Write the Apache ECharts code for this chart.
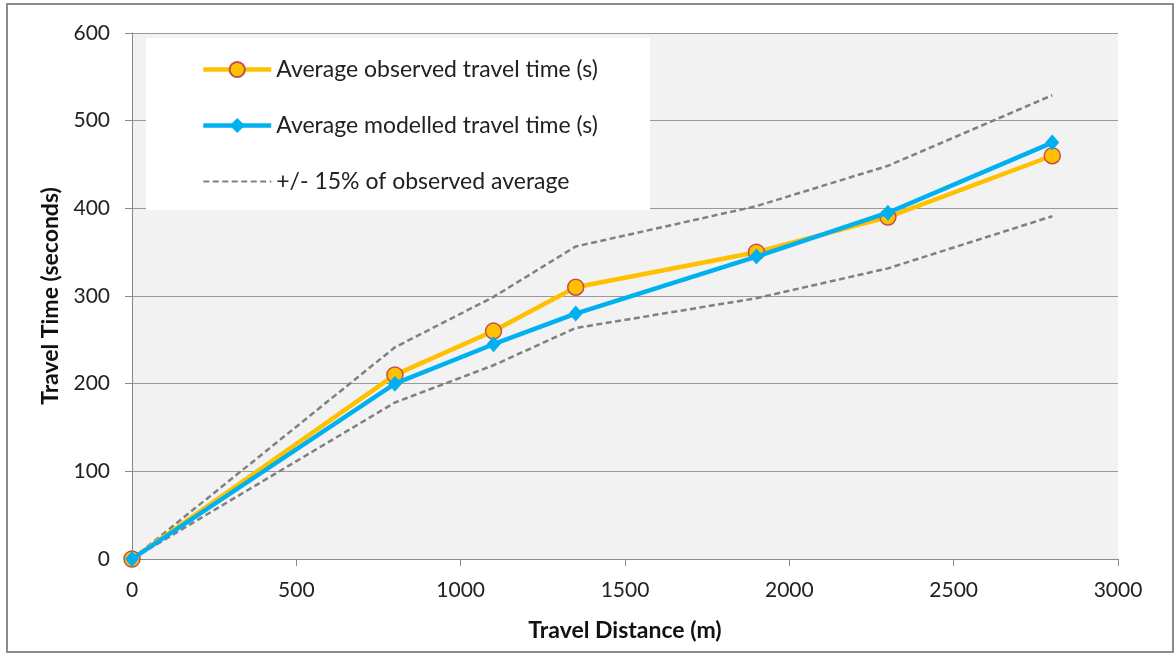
<!DOCTYPE html>
<html>
<head>
<meta charset="utf-8">
<script src="https://cdn.jsdelivr.net/npm/echarts@6/dist/echarts.min.js"></script>
<style>
  html, body { margin: 0; padding: 0; background: #ffffff; }
  #chart { width: 1175px; height: 655px; }
</style>
</head>
<body>
<div id="chart"></div>
<script>
// Travel distance (m) of each surveyed route
const distances = [0, 800, 1100, 1350, 1900, 2300, 2800];
// Average observed travel time (s)
const observed = [0, 210, 260, 310, 350, 390, 460];
// Average modelled travel time (s)
const modelled = [0, 200, 245, 280, 345, 395, 475];
// +/- 15% band around the observed average (s)
const upperBand = [0, 241.5, 299, 356.5, 402.5, 448.5, 529];
const lowerBand = [0, 178.5, 221, 263.5, 297.5, 331.5, 391];

const pairs = (ys) => distances.map((d, i) => [d, ys[i]]);

const FONT = 'Lato, "Open Sans", sans-serif';
const OBS_NAME = 'Average observed travel time (s)';
const MOD_NAME = 'Average modelled travel time (s)';
const BAND_NAME = '+/- 15% of observed average';
const DASH = [6, 3.5];

const chart = echarts.init(document.getElementById('chart'));

chart.setOption({
  backgroundColor: '#ffffff',
  animation: false,
  textStyle: { fontFamily: FONT },
  grid: { left: 132, right: 57, top: 33, bottom: 96, show: true, backgroundColor: '#f2f2f2', borderWidth: 0 },
  graphic: [
    {
      type: 'rect', z: 0, silent: true,
      shape: { x: 7, y: 4, width: 1166, height: 648 },
      style: { fill: 'none', stroke: '#8c8c8c', lineWidth: 2 }
    },
    {
      type: 'rect', z: 3, silent: true,
      shape: { x: 146, y: 38, width: 504, height: 172 },
      style: { fill: '#ffffff' }
    }
  ],
  legend: {
    z: 5,
    orient: 'vertical',
    left: 196,
    top: 53,
    itemGap: 33,
    itemWidth: 68,
    itemHeight: 19,
    textStyle: { fontFamily: FONT, fontSize: 23, color: '#222222' },
    data: [
      { name: OBS_NAME, lineStyle: { width: 4.5 } },
      { name: MOD_NAME, lineStyle: { width: 4.5 } },
      {
        name: BAND_NAME,
        lineStyle: { width: 2, type: DASH, color: '#808080' },
        itemStyle: { color: 'rgba(0,0,0,0)', borderColor: 'rgba(0,0,0,0)', borderWidth: 0 }
      }
    ]
  },
  xAxis: {
    type: 'value',
    min: 0, max: 3000, interval: 500,
    name: 'Travel Distance (m)',
    nameLocation: 'middle',
    nameGap: 60,
    nameTextStyle: { fontFamily: FONT, fontSize: 23, fontWeight: 'bold', color: '#111111' },
    axisLine: { show: true, lineStyle: { color: '#8a8a8a', width: 1 } },
    axisTick: { show: true, length: 7, lineStyle: { color: '#8a8a8a' } },
    axisLabel: { margin: 21, fontSize: 21, color: '#222222', fontFamily: FONT, formatter: (v) => String(v) },
    splitLine: { show: false }
  },
  yAxis: {
    type: 'value',
    min: 0, max: 600, interval: 100,
    name: 'Travel Time (seconds)',
    nameLocation: 'middle',
    nameGap: 70,
    nameTextStyle: { fontFamily: FONT, fontSize: 23, fontWeight: 'bold', color: '#111111' },
    axisLine: { show: true, lineStyle: { color: '#8a8a8a', width: 1 } },
    axisTick: { show: true, length: 7, lineStyle: { color: '#8a8a8a' } },
    axisLabel: { margin: 22, fontSize: 21, color: '#222222', fontFamily: FONT, formatter: (v) => String(v) },
    splitLine: { show: true, lineStyle: { color: '#9a9a9a', width: 1 } }
  },
  series: [
    {
      name: BAND_NAME, type: 'line', z: 2,
      data: pairs(upperBand), showSymbol: false, symbol: 'none',
      lineStyle: { color: '#808080', width: 2.5, type: DASH },
      itemStyle: { color: '#808080' }
    },
    {
      name: BAND_NAME, type: 'line', z: 2,
      data: pairs(lowerBand), showSymbol: false, symbol: 'none',
      lineStyle: { color: '#808080', width: 2.5, type: DASH },
      itemStyle: { color: '#808080' }
    },
    {
      name: OBS_NAME, type: 'line', z: 3,
      data: pairs(observed),
      symbol: 'circle', symbolSize: 16,
      lineStyle: { color: '#ffc000', width: 4.5 },
      itemStyle: { color: '#ffc000', borderColor: '#c0504d', borderWidth: 1.5 }
    },
    {
      name: MOD_NAME, type: 'line', z: 4,
      data: pairs(modelled),
      symbol: 'diamond', symbolSize: [14, 16],
      lineStyle: { color: '#00b0f0', width: 4.5 },
      itemStyle: { color: '#00b0f0', borderWidth: 0 }
    }
  ]
});
</script>
</body>
</html>
